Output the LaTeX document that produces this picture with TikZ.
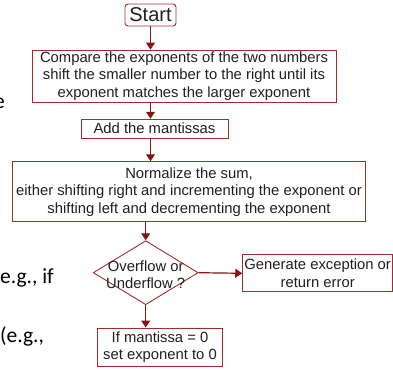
\documentclass[tikz,border=0pt]{standalone}
\usepackage{fontspec}
\setmainfont{Liberation Sans}
\newfontfamily\slidefont{Carlito}
\usetikzlibrary{positioning,arrows.meta,shapes.geometric}

\definecolor{boxred}{RGB}{160,45,45}
\definecolor{arrowred}{RGB}{135,20,20}

\begin{document}
\begin{tikzpicture}[
  x=1pt, y=-1pt,
  >={Triangle[width=9pt,length=7pt]},
  box/.style={
    draw=boxred,
    line width=0.9pt,
    align=center,
    inner sep=0pt,
    text=black!88,
    font=\fontsize{14.8}{17.5}\selectfont
  },
  startbox/.style={
    box,
    rounded corners=3pt,
    font=\fontsize{20}{22}\selectfont
  },
  decision/.style={
    draw=boxred,
    line width=0.9pt,
    diamond,
    inner sep=0pt,
    minimum width=105pt,
    minimum height=64pt
  },
  edge/.style={->, draw=arrowred, line width=1.2pt},
  slidetext/.style={anchor=base west, inner sep=0pt, font=\slidefont\fontsize{21.5}{25}\selectfont}
]
\useasboundingbox (0,0) rectangle (393,369);

% slide text behind the chart
\node[slidetext] (frag1) at (-6,108) {e};
\node[slidetext] (frag2) at (0,283) {e.g., if};
\node[slidetext] (frag3) at (0,342) {(e.g.,};

% flow chart
\node[startbox, minimum width=51pt, minimum height=22pt] (start) at (150.5,15) {Start};
\node[box, minimum width=304pt, minimum height=52pt] (compare) at (184,76)
  {Compare the exponents of the two numbers\\shift the smaller number to the right until its\\exponent matches the larger exponent};
\node[box, minimum width=147pt, minimum height=19pt] (add) at (154.5,128.7) {Add the mantissas};
\node[box, minimum width=353pt, minimum height=60pt] (norm) at (189,191.7)
  {Normalize the sum,\\either shifting right and incrementing the exponent or\\shifting left and decrementing the exponent};
\node[decision, label={[box, draw=none, yshift=-2pt]center:Overflow or\\Underflow ?}] (check) at (145.7,272.7) {};
\node[box, minimum width=150pt, minimum height=37pt] (error) at (317.7,273.3) {Generate exception or\\return error};
\node[box, minimum width=125pt, minimum height=38pt] (zero) at (160,347) {If mantissa = 0\\set exponent to 0};

\draw[edge] (start.south) -- (start.south |- compare.north);
\draw[edge] (start.south |- compare.south) -- (start.south |- add.north);
\draw[edge] (start.south |- add.south) -- (start.south |- norm.north);
\draw[edge] (check.north |- norm.south) -- (check.north);
\draw[edge] (check.east) -- (error.west);
\draw[edge] (check.south) -- (check.south |- zero.north);
\end{tikzpicture}
\end{document}
